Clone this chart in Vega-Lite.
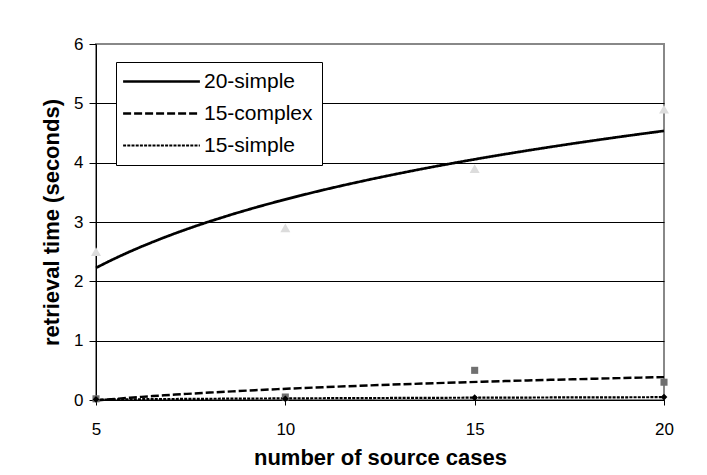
{
  "$schema": "https://vega.github.io/schema/vega-lite/v6.json",
  "width": 568,
  "height": 356,
  "autosize": {"type": "none"},
  "padding": {"left": 96, "top": 44, "right": 43, "bottom": 75},
  "background": "white",
  "config": {
    "view": {"stroke": "#888888", "strokeWidth": 2},
    "font": "Liberation Sans"
  },
  "data": {
    "values": [
      {"series": "20-simple", "x": 5, "y": 2.5},
      {"series": "20-simple", "x": 10, "y": 2.9},
      {"series": "20-simple", "x": 15, "y": 3.9},
      {"series": "20-simple", "x": 20, "y": 4.9},
      {"series": "15-complex", "x": 5, "y": 0.02},
      {"series": "15-complex", "x": 10, "y": 0.05},
      {"series": "15-complex", "x": 15, "y": 0.5},
      {"series": "15-complex", "x": 20, "y": 0.3},
      {"series": "15-simple", "x": 5, "y": 0.01},
      {"series": "15-simple", "x": 10, "y": 0.02},
      {"series": "15-simple", "x": 15, "y": 0.04},
      {"series": "15-simple", "x": 20, "y": 0.05}
    ]
  },
  "layer": [
    {
      "transform": [
        {"regression": "y", "on": "x", "groupby": ["series"], "method": "log", "extent": [5, 20]}
      ],
      "mark": {"type": "line", "color": "black", "clip": false},
      "encoding": {
        "x": {
          "field": "x", "type": "quantitative",
          "scale": {"domain": [5, 20], "nice": false, "zero": false},
          "axis": {
            "values": [5, 10, 15, 20],
            "format": "d",
            "grid": false,
            "title": "number of source cases",
            "tickSize": 5, "tickColor": "black",
            "domainColor": "black", "domainWidth": 1,
            "labelFont": "Liberation Sans", "labelFontSize": 17, "labelColor": "black",
            "labelPadding": 16, "labelFlush": false, "labelOverlap": false,
            "titleFont": "Liberation Sans", "titleFontSize": 22, "titleFontWeight": "bold", "titleColor": "black",
            "titleBaseline": "alphabetic", "titleY": 64
          }
        },
        "y": {
          "field": "y", "type": "quantitative",
          "scale": {"domain": [0, 6], "nice": false},
          "axis": {
            "values": [0, 1, 2, 3, 4, 5, 6],
            "format": "d",
            "grid": true,
            "gridColor": {"condition": {"test": "datum.value >= 6", "value": "#888888"}, "value": "black"},
            "gridWidth": 1,
            "title": "retrieval time (seconds)",
            "tickSize": 7, "tickColor": "black",
            "domainColor": "black", "domainWidth": 1,
            "labelFont": "Liberation Sans", "labelFontSize": 17, "labelColor": "black",
            "labelPadding": 6,
            "titleFont": "Liberation Sans", "titleFontSize": 22, "titleFontWeight": "bold", "titleColor": "black",
            "titleAngle": 270, "titleBaseline": "alphabetic", "titleAlign": "center",
            "titleX": -38, "titleY": 178
          }
        },
        "strokeDash": {
          "field": "series", "type": "nominal",
          "scale": {"domain": ["20-simple", "15-complex", "15-simple"], "range": [[1, 0], [8, 3], [3, 1.2]]},
          "legend": {
            "title": null,
            "orient": "none", "legendX": 20, "legendY": 18,
            "padding": 9,
            "strokeColor": "black", "fillColor": "white", "cornerRadius": 0,
            "symbolType": "M-4.8,0H4.8",
            "symbolSize": 256,
            "symbolStrokeWidth": 3,
            "symbolStrokeColor": "black",
            "symbolOffset": 26,
            "labelOffset": 32,
            "rowPadding": 10,
            "labelFont": "Liberation Sans", "labelFontSize": 21, "labelColor": "black", "labelLimit": 300
          }
        },
        "strokeWidth": {
          "field": "series", "type": "nominal",
          "scale": {"domain": ["20-simple", "15-complex", "15-simple"], "range": [2.7, 2.2, 2.5]},
          "legend": null
        }
      }
    },
    {
      "transform": [{"filter": {"field": "series", "equal": "20-simple"}}],
      "mark": {"type": "point", "shape": "triangle-up", "filled": true, "fill": "#dcdcdc", "strokeWidth": 0, "size": 100, "opacity": 1, "clip": false},
      "encoding": {
        "x": {"field": "x", "type": "quantitative"},
        "y": {"field": "y", "type": "quantitative"}
      }
    },
    {
      "transform": [{"filter": {"field": "series", "equal": "15-complex"}}],
      "mark": {"type": "point", "shape": "square", "filled": true, "fill": "#707070", "strokeWidth": 0, "size": 50, "opacity": 1, "clip": false},
      "encoding": {
        "x": {"field": "x", "type": "quantitative"},
        "y": {"field": "y", "type": "quantitative"}
      }
    },
    {
      "transform": [{"filter": {"field": "series", "equal": "15-simple"}}],
      "mark": {"type": "point", "shape": "diamond", "filled": true, "fill": "#000000", "strokeWidth": 0, "size": 45, "opacity": 1, "clip": false},
      "encoding": {
        "x": {"field": "x", "type": "quantitative"},
        "y": {"field": "y", "type": "quantitative"}
      }
    }
  ]
}
